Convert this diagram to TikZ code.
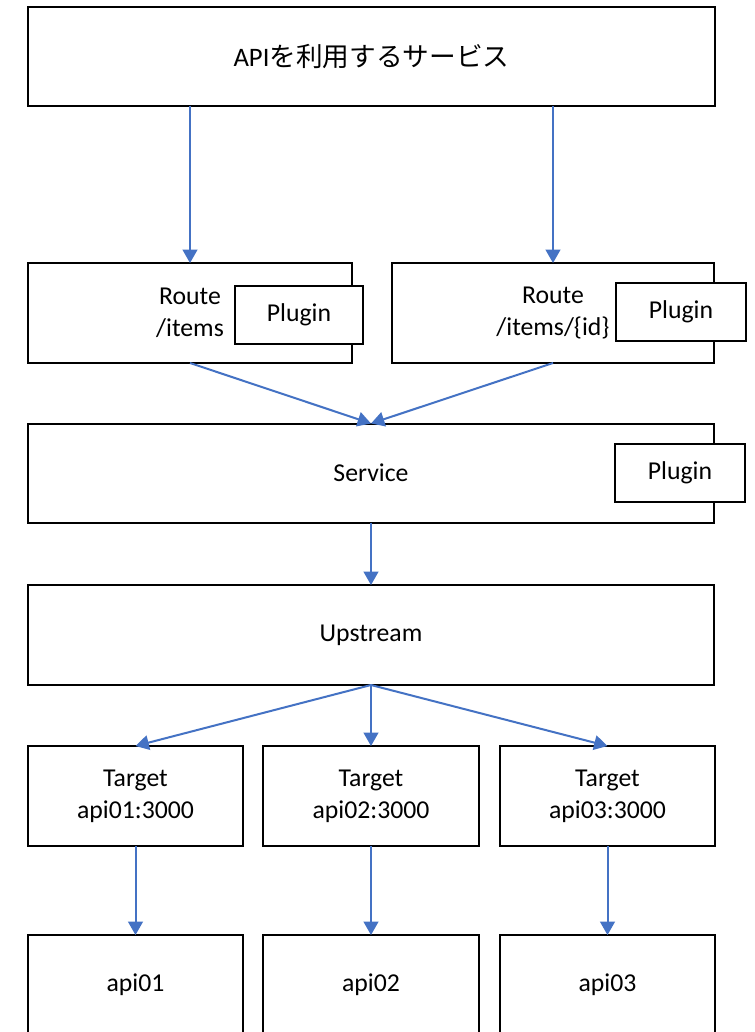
\documentclass[tikz,border=0pt]{standalone}
\usepackage{fontspec}
\setmainfont{Carlito}
\newfontfamily\cjk{Noto Sans CJK JP}
\usetikzlibrary{arrows.meta}
\definecolor{arrowblue}{HTML}{4472C4}
\begin{document}
\begin{tikzpicture}[x=0.75pt,y=-0.75pt,
  box/.style={draw=black,line width=1.5pt,fill=white,inner sep=0pt,outer sep=0pt,
    align=center,font=\fontsize{19.3pt}{24pt}\selectfont},
  conn/.style={draw=arrowblue,line width=1.5pt,-{Triangle[width=11pt,length=10pt]}}]
\useasboundingbox (0,0) rectangle (754,1032);
\fill[white] (0,0) rectangle (754,1032);
% top
\node[box,minimum width=515.25pt,minimum height=74.25pt] (top) at (371.5,56.5)
  {\fontsize{20pt}{24pt}\selectfont API{\cjk を利用するサービス}};
% routes
\node[box,minimum width=243pt,minimum height=75pt] (route1) at (190,313) {Route\\/items};
\node[box,minimum width=241.5pt,minimum height=75pt] (route2) at (553,313) {Route\\/items/\{id\}};
\node[box,minimum width=96pt,minimum height=43.5pt] (plugin1) at (299,315) {Plugin};
\node[box,minimum width=97.5pt,minimum height=43.5pt] (plugin2) at (681,312) {Plugin};
% service
\node[box,minimum width=514.5pt,minimum height=74.25pt] (service) at (371,473) {Service};
\node[box,minimum width=97.5pt,minimum height=43.5pt] (plugin3) at (680,473) {Plugin};
% upstream
\node[box,minimum width=514.5pt,minimum height=75pt] (upstream) at (371,635) {Upstream};
% targets
\node[box,minimum width=161.25pt,minimum height=75pt] (t1) at (135.5,796) {Target\\api01:3000};
\node[box,minimum width=162pt,minimum height=75pt] (t2) at (371,796) {Target\\api02:3000};
\node[box,minimum width=161.25pt,minimum height=75pt] (t3) at (607.5,796) {Target\\api03:3000};
% apis
\node[box,minimum width=161.25pt,minimum height=75pt] (a1) at (135.5,985) {api01};
\node[box,minimum width=162pt,minimum height=75pt] (a2) at (371,985) {api02};
\node[box,minimum width=161.25pt,minimum height=75pt] (a3) at (607.5,985) {api03};
% connectors
\draw[conn] (route1.north |- top.south) -- (route1.north);
\draw[conn] (route2.north |- top.south) -- (route2.north);
\draw[conn] (route1.south) -- (service.north);
\draw[conn] (route2.south) -- (service.north);
\draw[conn] (service.south) -- (upstream.north);
\draw[conn] (upstream.south) -- (t1.north);
\draw[conn] (upstream.south) -- (t2.north);
\draw[conn] (upstream.south) -- (t3.north);
\draw[conn] (t1.south) -- (a1.north);
\draw[conn] (t2.south) -- (a2.north);
\draw[conn] (t3.south) -- (a3.north);
\end{tikzpicture}
\end{document}
